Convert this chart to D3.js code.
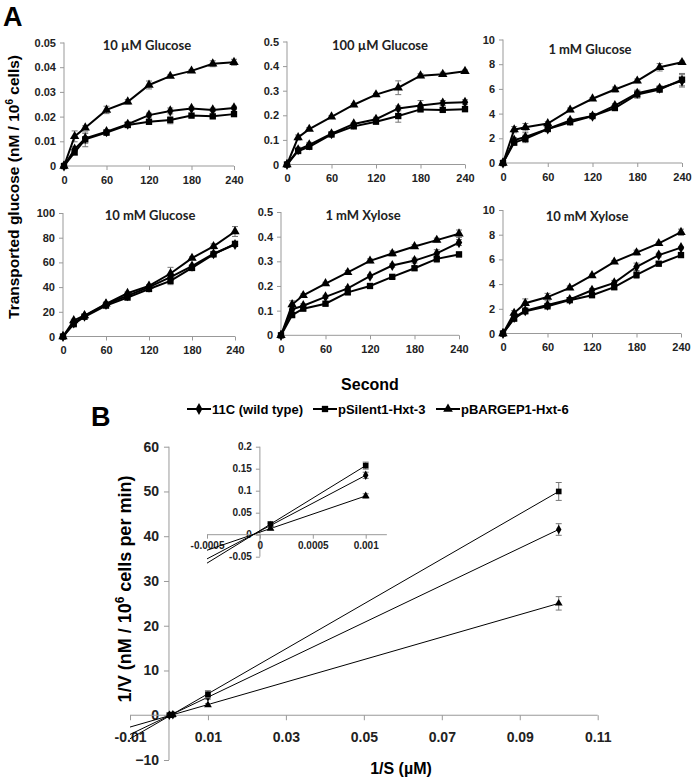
<!DOCTYPE html>
<html><head><meta charset="utf-8">
<script src="https://cdn.jsdelivr.net/npm/d3@7"></script>
<style>body{margin:0;background:#fff}</style>
</head><body>
<svg id="c" width="697" height="779" xmlns="http://www.w3.org/2000/svg"></svg>
<script>
// ---------------- DATA ----------------
const seriesNames = ["11C (wild type)", "pSilent1-Hxt-3", "pBARGEP1-Hxt-6"];
const times = [0, 15, 30, 60, 90, 120, 150, 180, 210, 240];
const timeTicks = [0, 60, 120, 180, 240];
const panelTitles = ["10 µM Glucose", "100 µM Glucose", "1 mM Glucose", "10 mM Glucose", "1 mM Xylose", "10 mM Xylose"];
const panelYTicks = [
  ["0", "0.01", "0.02", "0.03", "0.04", "0.05"],
  ["0", "0.1", "0.2", "0.3", "0.4", "0.5"],
  ["0", "2", "4", "6", "8", "10"],
  ["0", "20", "40", "60", "80", "100"],
  ["0", "0.1", "0.2", "0.3", "0.4", "0.5"],
  ["0", "2", "4", "6", "8", "10"]
];

// 10 uM glucose
const wt_g10u = [0, 0.0068, 0.0112, 0.0139, 0.0169, 0.0206, 0.0223, 0.0233, 0.0227, 0.0235];
const si_g10u = [0, 0.0055, 0.0108, 0.0135, 0.0166, 0.0179, 0.0186, 0.0204, 0.0201, 0.021];
const bg_g10u = [0, 0.012, 0.0155, 0.0227, 0.026, 0.0328, 0.0364, 0.0385, 0.0414, 0.042];
const wtE_g10u = [0, 0.001, 0.002, 0.0008, 0.001, 0.0008, 0.0012, 0.0006, 0.0007, 0.0007];
const siE_g10u = [0, 0.001, 0.003, 0.0008, 0.001, 0.001, 0.0015, 0.0006, 0.0006, 0.0006];
const bgE_g10u = [0, 0.0022, 0.0008, 0.0015, 0.0009, 0.0016, 0.0005, 0.0005, 0.0012, 0.0012];
// 100 uM glucose
const wt_g100u = [0, 0.06, 0.08, 0.125, 0.165, 0.184, 0.228, 0.24, 0.25, 0.253];
const si_g100u = [0, 0.055, 0.072, 0.122, 0.155, 0.174, 0.197, 0.224, 0.222, 0.225];
const bg_g100u = [0, 0.11, 0.144, 0.194, 0.243, 0.284, 0.312, 0.361, 0.367, 0.379];
const wtE_g100u = [0, 0.01, 0.01, 0.006, 0.006, 0.008, 0.01, 0.02, 0.01, 0.01];
const siE_g100u = [0, 0.008, 0.008, 0.006, 0.006, 0.006, 0.025, 0.008, 0.008, 0.01];
const bgE_g100u = [0, 0.01, 0.006, 0.005, 0.005, 0.005, 0.028, 0.008, 0.008, 0.005];
// 1 mM glucose
const wt_g1m = [0, 1.85, 2.1, 2.75, 3.45, 3.8, 4.65, 5.65, 6.05, 6.65];
const si_g1m = [0, 1.65, 1.95, 2.75, 3.3, 3.8, 4.45, 5.55, 5.95, 6.75];
const bg_g1m = [0, 2.7, 2.9, 3.2, 4.3, 5.2, 5.95, 6.65, 7.75, 8.15];
const wtE_g1m = [0, 0.2, 0.35, 0.15, 0.15, 0.1, 0.15, 0.25, 0.2, 0.5];
const siE_g1m = [0, 0.2, 0.3, 0.15, 0.1, 0.1, 0.15, 0.3, 0.2, 0.5];
const bgE_g1m = [0, 0.25, 0.3, 0.15, 0.15, 0.1, 0.2, 0.15, 0.3, 0.1];
// 10 mM glucose
const wt_g10m = [0, 11, 16.5, 26, 33, 40, 48, 57, 67, 74.5];
const si_g10m = [0, 10, 16, 25, 31.5, 38.5, 45, 55.5, 66.5, 75];
const bg_g10m = [0, 13, 17, 26.5, 35, 41, 51, 63.5, 73, 85];
const wtE_g10m = [0, 1.2, 1, 1, 1, 1, 2.5, 1, 2, 1.5];
const siE_g10m = [0, 1, 1, 1, 1, 1, 3, 1, 1, 1];
const bgE_g10m = [0, 1, 1, 1.5, 1, 1, 5, 1, 2, 4];
// 1 mM xylose
const wt_x1m = [0, 0.105, 0.12, 0.156, 0.19, 0.24, 0.283, 0.303, 0.332, 0.376];
const si_x1m = [0, 0.082, 0.108, 0.128, 0.174, 0.2, 0.237, 0.272, 0.31, 0.328];
const bg_x1m = [0, 0.125, 0.162, 0.21, 0.255, 0.302, 0.332, 0.36, 0.386, 0.412];
const wtE_x1m = [0, 0.01, 0.008, 0.006, 0.008, 0.006, 0.007, 0.01, 0.015, 0.012];
const siE_x1m = [0, 0.008, 0.006, 0.006, 0.008, 0.006, 0.006, 0.008, 0.015, 0.01];
const bgE_x1m = [0, 0.015, 0.006, 0.005, 0.008, 0.008, 0.01, 0.007, 0.008, 0.015];
// 10 mM xylose
const wt_x10m = [0, 1.3, 1.85, 2.3, 2.75, 3.5, 4.1, 5.4, 6.35, 6.95];
const si_x10m = [0, 1.2, 1.8, 2.2, 2.7, 3.1, 3.75, 4.75, 5.65, 6.35];
const bg_x10m = [0, 1.65, 2.45, 2.95, 3.7, 4.7, 5.8, 6.55, 7.3, 8.2];
const wtE_x10m = [0, 0.2, 0.2, 0.15, 0.15, 0.15, 0.2, 0.3, 0.15, 0.1];
const siE_x10m = [0, 0.15, 0.15, 0.1, 0.1, 0.1, 0.2, 0.3, 0.1, 0.1];
const bgE_x10m = [0, 0.2, 0.35, 0.3, 0.15, 0.1, 0.1, 0.2, 0.1, 0.25];

// Panel B (Lineweaver-Burk)
const invS = [0.0001, 0.001, 0.01, 0.1];
const wt_invV = [0.021, 0.135, 4.1, 41.5];
const si_invV = [0.024, 0.157, 4.7, 50];
const bg_invV = [0.014, 0.088, 2.3, 25];
const wt_invVErr = [0.004, 0.007, 0.5, 1.3];
const si_invVErr = [0.005, 0.008, 0.8, 2.0];
const bg_invVErr = [0.003, 0.005, 0.3, 1.5];
const bXTicks = [-0.01, 0.01, 0.03, 0.05, 0.07, 0.09, 0.11];
const bYTicks = [-10, 0, 10, 20, 30, 40, 50, 60];
const insetXTicks = [-0.0005, 0, 0.0005, 0.001];
const insetXTickLabels = ["-0.0005", "0", "0.0005", "0.001"];
const insetYTicks = [-0.05, 0, 0.05, 0.1, 0.15, 0.2];

// ---------------- DRAW ----------------
const svg = d3.select("#c");
const AXC = "#999", TXT = "#222", ERR = "#777";
const tickFont = "Liberation Sans, Arial, sans-serif";
const symTypes = [d3.symbolDiamond, d3.symbolSquare, d3.symbolTriangle];

const panels = [
  {vals: [wt_g10u, si_g10u, bg_g10u], errs: [wtE_g10u, siE_g10u, bgE_g10u]},
  {vals: [wt_g100u, si_g100u, bg_g100u], errs: [wtE_g100u, siE_g100u, bgE_g100u]},
  {vals: [wt_g1m, si_g1m, bg_g1m], errs: [wtE_g1m, siE_g1m, bgE_g1m]},
  {vals: [wt_g10m, si_g10m, bg_g10m], errs: [wtE_g10m, siE_g10m, bgE_g10m]},
  {vals: [wt_x1m, si_x1m, bg_x1m], errs: [wtE_x1m, siE_x1m, bgE_x1m]},
  {vals: [wt_x10m, si_x10m, bg_x10m], errs: [wtE_x10m, siE_x10m, bgE_x10m]}
];
const layout = [
  {x0: 64, x1: 234, y0: 166, y1: 42.5, tx: 147, ty: 50},
  {x0: 287, x1: 465, y0: 164.5, y1: 41.5, tx: 380, ty: 50},
  {x0: 503, x1: 682, y0: 163, y1: 39.5, tx: 590, ty: 54},
  {x0: 63, x1: 235, y0: 336.5, y1: 213, tx: 150, ty: 220},
  {x0: 281, x1: 459, y0: 335.3, y1: 212, tx: 363, ty: 220},
  {x0: 503, x1: 681, y0: 333.5, y1: 210, tx: 587, ty: 221}
];

panels.forEach((p, i) => {
  const L = layout[i];
  const yTicks = panelYTicks[i];
  const yMax = +yTicks[yTicks.length - 1];
  const x = d3.scaleLinear().domain([0, 240]).range([L.x0, L.x1]);
  const y = d3.scaleLinear().domain([0, yMax]).range([L.y0, L.y1]);
  const g = svg.append("g");
  const ya = g.append("g").attr("transform", `translate(${L.x0},0)`)
    .call(d3.axisLeft(y).tickValues(yTicks.map(Number)).tickFormat((d, k) => yTicks[k]).tickSize(4).tickPadding(4));
  const xa = g.append("g").attr("transform", `translate(0,${L.y0})`)
    .call(d3.axisBottom(x).tickValues(timeTicks).tickSize(4).tickPadding(6));
  [ya, xa].forEach(a => {
    a.select(".domain").attr("stroke", AXC);
    a.selectAll(".tick line").attr("stroke", AXC);
    a.selectAll("text").attr("fill", TXT).style("font", `bold 11px ${tickFont}`);
  });
  ya.select(".domain").attr("d", `M0,${L.y0}V${L.y1}`);
  xa.select(".domain").attr("d", `M${L.x0},0H${L.x1}`);
  g.append("text").attr("x", L.tx).attr("y", L.ty).attr("text-anchor", "middle")
    .attr("fill", TXT).style("font", "bold 13px Lato, 'Open Sans', sans-serif").text(panelTitles[i]);
  p.vals.forEach((vals, s) => {
    const errs = p.errs[s];
    vals.forEach((v, k) => {
      if (!errs[k]) return;
      const cx = x(times[k]), ya1 = y(v + errs[k]), ya2 = y(Math.max(0, v - errs[k]));
      g.append("path").attr("fill", "none").attr("stroke", ERR).attr("stroke-width", 1)
        .attr("d", `M${cx},${ya1}V${ya2}M${cx - 3},${ya1}H${cx + 3}M${cx - 3},${ya2}H${cx + 3}`);
    });
  });
  const line = d3.line().x((d, k) => x(times[k])).y(d => y(d));
  p.vals.forEach(vals => {
    g.append("path").datum(vals).attr("fill", "none").attr("stroke", "#000").attr("stroke-width", 2).attr("d", line);
  });
  p.vals.forEach((vals, s) => {
    const sym = d3.symbol().type(symTypes[s]).size(s === 1 ? 40 : (s === 0 ? 36 : 38));
    g.selectAll(null).data(vals).join("path")
      .attr("transform", (d, k) => `translate(${x(times[k])},${y(d)})`)
      .attr("d", sym).attr("fill", "#000");
  });
});

svg.append("text").attr("x", 3).attr("y", 26).attr("fill", "#000")
  .style("font", `bold 27px ${tickFont}`).text("A");
svg.append("text").attr("x", 91).attr("y", 426).attr("fill", "#000")
  .style("font", `bold 27px ${tickFont}`).text("B");

const yl = svg.append("text").attr("transform", "translate(19,187) rotate(-90)").attr("text-anchor", "middle")
  .attr("fill", "#000").style("font", `bold 15.5px ${tickFont}`);
yl.append("tspan").text("Transported glucose (nM / 10");
yl.append("tspan").attr("dy", -6).style("font-size", "10px").text("6");
yl.append("tspan").attr("dy", 6).text(" cells)");

svg.append("text").attr("x", 370).attr("y", 390).attr("text-anchor", "middle").attr("fill", "#000")
  .style("font", `bold 16px ${tickFont}`).text("Second");

const legendX = [187, 313, 436];
seriesNames.forEach((n, s) => {
  const lx = legendX[s], ly = 409;
  svg.append("line").attr("x1", lx).attr("x2", lx + 24).attr("y1", ly).attr("y2", ly)
    .attr("stroke", "#000").attr("stroke-width", 2);
  svg.append("path").attr("transform", `translate(${lx + 12},${ly})`)
    .attr("d", d3.symbol().type(symTypes[s]).size(40)).attr("fill", "#000");
  svg.append("text").attr("x", lx + 25).attr("y", ly + 5).attr("fill", "#000")
    .style("font", `bold 13px ${tickFont}`).text(n);
});

// ---------------- Panel B ----------------
const bx = d3.scaleLinear().domain([-0.01, 0.11]).range([130, 597.7]);
const by = d3.scaleLinear().domain([-10, 60]).range([760, 446.7]);
const bSeries = [
  {v: wt_invV, e: wt_invVErr},
  {v: si_invV, e: si_invVErr},
  {v: bg_invV, e: bg_invVErr}
];
function fit(xs, ys) {
  const mx = d3.mean(xs), my = d3.mean(ys);
  let sxy = 0, sxx = 0;
  xs.forEach((xv, k) => { sxy += (xv - mx) * (ys[k] - my); sxx += (xv - mx) ** 2; });
  const m = sxy / sxx;
  return {m, b: my - m * mx};
}
const gb = svg.append("g");
const bya = gb.append("g").attr("transform", `translate(${bx(0)},0)`)
  .call(d3.axisLeft(by).tickValues(bYTicks).tickSize(5).tickPadding(5));
const bxa = gb.append("g").attr("transform", `translate(0,${by(0)})`)
  .call(d3.axisBottom(bx).tickValues(bXTicks).tickFormat(d => String(d)).tickSize(5).tickPadding(12));
[bya, bxa].forEach(a => {
  a.select(".domain").attr("stroke", AXC);
  a.selectAll(".tick line").attr("stroke", AXC);
  a.selectAll("text").attr("fill", TXT).style("font", `bold 14px ${tickFont}`);
});
bya.select(".domain").attr("d", `M0,${by(-10)}V${by(60)}`);
bxa.select(".domain").attr("d", `M${bx(-0.01)},0H${bx(0.11)}`);

bSeries.forEach(s => {
  const f = fit(invS, s.v);
  gb.append("line").attr("x1", bx(-0.01)).attr("y1", by(f.m * -0.01 + f.b))
    .attr("x2", bx(0.1)).attr("y2", by(f.m * 0.1 + f.b)).attr("stroke", "#000").attr("stroke-width", 1);
});
bSeries.forEach((s, si) => {
  s.v.forEach((v, k) => {
    const cx = bx(invS[k]), y1 = by(v + s.e[k]), y2 = by(v - s.e[k]);
    gb.append("path").attr("fill", "none").attr("stroke", ERR).attr("stroke-width", 1)
      .attr("d", `M${cx},${y1}V${y2}M${cx - 3},${y1}H${cx + 3}M${cx - 3},${y2}H${cx + 3}`);
  });
  gb.selectAll(null).data(s.v).join("path")
    .attr("transform", (d, k) => `translate(${bx(invS[k])},${by(d)})`)
    .attr("d", d3.symbol().type(symTypes[si]).size(si === 1 ? 32 : 26)).attr("fill", "#000");
});

svg.append("text").attr("x", 401).attr("y", 774).attr("text-anchor", "middle").attr("fill", "#000")
  .style("font", `bold 16px ${tickFont}`).text("1/S (µM)");
const byl = svg.append("text").attr("transform", "translate(131,589) rotate(-90)").attr("text-anchor", "middle")
  .attr("fill", "#000").style("font", `bold 18px ${tickFont}`);
byl.append("tspan").text("1/V (nM / 10");
byl.append("tspan").attr("dy", -7).style("font-size", "12px").text("6");
byl.append("tspan").attr("dy", 7).text(" cells per min)");

// inset
const ix = d3.scaleLinear().domain([-0.0005, 0.001]).range([207, 365.7]);
const iy = d3.scaleLinear().domain([-0.05, 0.2]).range([556.7, 446.7]);
const gi = svg.append("g");
const iya = gi.append("g").attr("transform", `translate(${ix(0)},0)`)
  .call(d3.axisLeft(iy).tickValues(insetYTicks).tickFormat(d => String(+d.toFixed(2))).tickSize(4).tickPadding(4));
const ixa = gi.append("g").attr("transform", `translate(0,${iy(0)})`)
  .call(d3.axisBottom(ix).tickValues(insetXTicks).tickFormat((d, k) => insetXTickLabels[k]).tickSize(4).tickPadding(3));
[iya, ixa].forEach(a => {
  a.select(".domain").attr("stroke", AXC);
  a.selectAll(".tick line").attr("stroke", AXC);
  a.selectAll("text").attr("fill", TXT).style("font", `bold 10px ${tickFont}`);
});
iya.select(".domain").attr("d", `M0,${iy(-0.05)}V${iy(0.2)}`);
ixa.select(".domain").attr("d", `M${ix(-0.0005)},0H${ix(0.0012)}`);
bSeries.forEach(s => {
  const f = fit(invS.slice(0, 2), s.v.slice(0, 2));
  gi.append("line").attr("x1", ix(-0.0005)).attr("y1", iy(f.m * -0.0005 + f.b))
    .attr("x2", ix(0.001)).attr("y2", iy(f.m * 0.001 + f.b)).attr("stroke", "#000").attr("stroke-width", 1);
});
bSeries.forEach((s, si) => {
  [0, 1].forEach(k => {
    const cx = ix(invS[k]), y1 = iy(s.v[k] + s.e[k]), y2 = iy(s.v[k] - s.e[k]);
    gi.append("path").attr("fill", "none").attr("stroke", ERR).attr("stroke-width", 1)
      .attr("d", `M${cx},${y1}V${y2}M${cx - 3},${y1}H${cx + 3}M${cx - 3},${y2}H${cx + 3}`);
    gi.append("path").attr("transform", `translate(${cx},${iy(s.v[k])})`)
      .attr("d", d3.symbol().type(symTypes[si]).size(si === 1 ? 32 : 26)).attr("fill", "#000");
  });
});
</script></body></html>
